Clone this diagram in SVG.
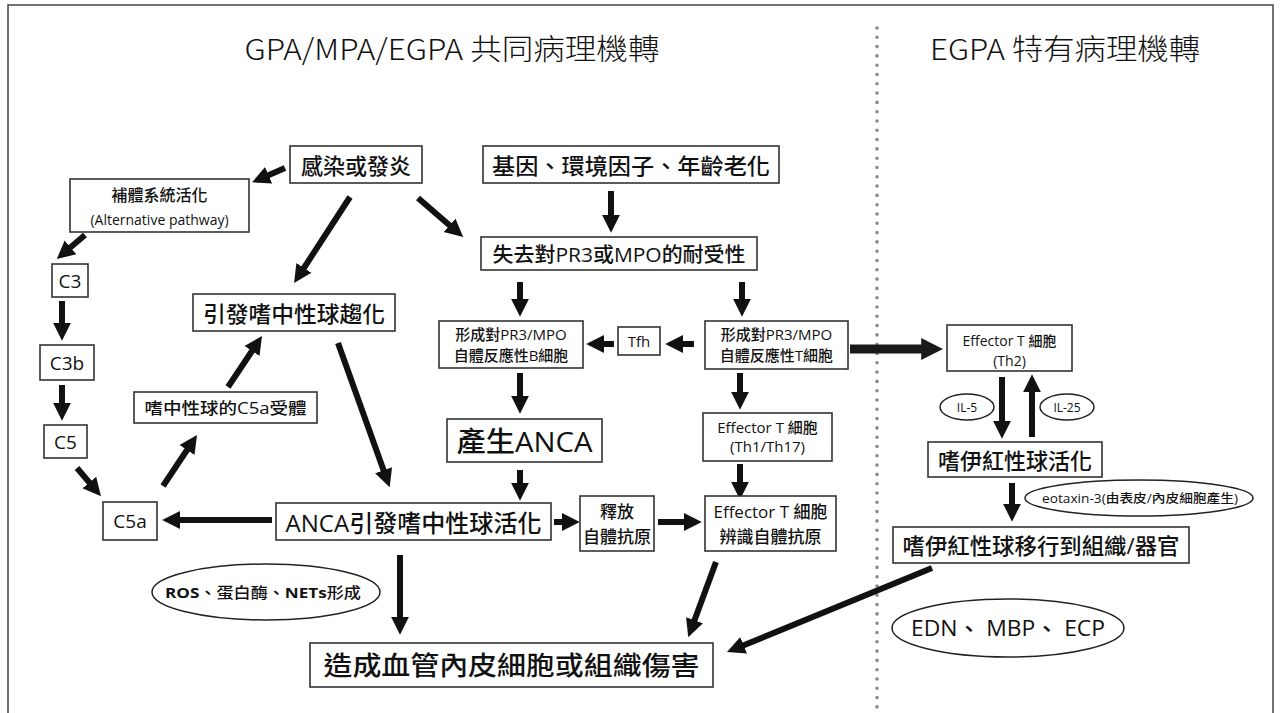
<svg xmlns="http://www.w3.org/2000/svg" width="1280" height="713" viewBox="0 0 1280 713">
<defs>
<marker id="ah" viewBox="0 0 10 10" refX="4" refY="5" markerWidth="18" markerHeight="21" markerUnits="userSpaceOnUse" orient="auto"><path d="M0,0 L10,5 L0,10 z" fill="#111"/></marker>
<marker id="ahL" viewBox="0 0 10 10" refX="4" refY="5" markerWidth="22" markerHeight="30" markerUnits="userSpaceOnUse" orient="auto"><path d="M0,0 L10,5 L0,10 z" fill="#1a1a1a"/></marker>
<style>
.box{fill:#fff;stroke:#333;stroke-width:1.6}
.ell{fill:#fff;stroke:#222;stroke-width:1.5}
text{font-family:"Open Sans","Noto Sans CJK TC",sans-serif;fill:#111;text-anchor:middle;dominant-baseline:central;font-weight:500}
.title{font-family:"Noto Sans CJK TC","Open Sans",sans-serif;font-weight:300;font-size:29px}
.arr{stroke:#111;stroke-width:6;fill:none;marker-end:url(#ah)}
</style>
</defs>
<rect width="1280" height="713" fill="#fff"/>
<path d="M8,713 V5 H1273 V713" fill="none" stroke="#444" stroke-width="1.5"/>
<line x1="877" y1="28" x2="877" y2="713" stroke="#8a8a8a" stroke-width="3.6" stroke-linecap="round" stroke-dasharray="0 9.3"/>
<text class="title" x="452" y="47" textLength="415" lengthAdjust="spacingAndGlyphs">GPA/MPA/EGPA 共同病理機轉</text>
<text class="title" x="1065" y="47" textLength="270" lengthAdjust="spacingAndGlyphs">EGPA 特有病理機轉</text>

<g id="connectors">
<line class="arr" x1="285" y1="168" x2="262" y2="178"/>
<line class="arr" x1="350" y1="197" x2="300" y2="274"/>
<line class="arr" x1="418" y1="198" x2="455" y2="230"/>
<line class="arr" x1="85" y1="235" x2="65" y2="252"/>
<line class="arr" x1="62" y1="301" x2="62" y2="330"/>
<line class="arr" x1="62" y1="385" x2="62" y2="410"/>
<line class="arr" x1="77" y1="468" x2="94" y2="488"/>
<line class="arr" x1="163" y1="486" x2="191" y2="444"/>
<line class="arr" x1="228" y1="387" x2="256" y2="345"/>
<line class="arr" x1="338" y1="343" x2="386" y2="477"/>
<line class="arr" x1="272" y1="520" x2="173" y2="520"/>
<line class="arr" x1="611" y1="191" x2="611" y2="222"/>
<line class="arr" x1="520" y1="282" x2="520" y2="306"/>
<line class="arr" x1="742" y1="282" x2="742" y2="306"/>
<line class="arr" x1="694" y1="344" x2="676" y2="344"/>
<line class="arr" x1="614" y1="344" x2="597" y2="344"/>
<line class="arr" x1="520" y1="373" x2="520" y2="403"/>
<line class="arr" x1="740" y1="373" x2="740" y2="399"/>
<line class="arr" x1="520" y1="470" x2="520" y2="490"/>
<line class="arr" x1="740" y1="464" x2="740" y2="489"/>
<line class="arr" x1="554" y1="522" x2="569" y2="522"/>
<line class="arr" x1="658" y1="522" x2="691" y2="522"/>
<line class="arr" x1="400" y1="555" x2="400" y2="624"/>
<line class="arr" x1="716" y1="562" x2="692" y2="627"/>
<line class="arr" x1="932" y1="568" x2="737" y2="648"/>
<line x1="850" y1="349" x2="930" y2="349" stroke="#1a1a1a" stroke-width="9" marker-end="url(#ahL)"/>
<line class="arr" x1="1002" y1="377" x2="1002" y2="428"/>
<line class="arr" x1="1032" y1="437" x2="1032" y2="385"/>
<line class="arr" x1="1012" y1="483" x2="1012" y2="511"/>
</g>

<g id="n_infect"><rect class="box" x="290" y="146" width="132" height="37"/><text x="356" y="165" font-size="22">感染或發炎</text></g>
<g id="n_complement"><rect class="box" x="70" y="179" width="179" height="53"/><text x="159.5" y="195" font-size="16">補體系統活化</text><text x="159.5" y="219" font-size="14" font-weight="400">(Alternative pathway)</text></g>
<g id="n_c3"><rect class="box" x="52" y="264" width="36" height="33"/><text x="70" y="281" font-size="19" font-weight="400">C3</text></g>
<g id="n_c3b"><rect class="box" x="40" y="345" width="54" height="35"/><text x="67" y="363" font-size="19" font-weight="400">C3b</text></g>
<g id="n_c5"><rect class="box" x="44" y="425" width="43" height="33"/><text x="65.5" y="442" font-size="19" font-weight="400">C5</text></g>
<g id="n_c5a"><rect class="box" x="103" y="502" width="54" height="38"/><text x="130" y="521" font-size="19" font-weight="400">C5a</text></g>
<g id="n_receptor"><rect class="box" x="134" y="392" width="183" height="31"/><text x="225.5" y="408" font-size="16" textLength="162" lengthAdjust="spacingAndGlyphs">嗜中性球的C5a受體</text></g>
<g id="n_chemotaxis"><rect class="box" x="193" y="294" width="202" height="37"/><text x="294" y="313" font-size="22" textLength="182" lengthAdjust="spacingAndGlyphs">引發嗜中性球趨化</text></g>
<g id="n_gene"><rect class="box" x="483" y="146" width="296" height="37"/><text x="631" y="165" font-size="22" textLength="278" lengthAdjust="spacingAndGlyphs">基因、環境因子、年齡老化</text></g>
<g id="n_tolerance"><rect class="box" x="481" y="237" width="276" height="33"/><text x="619" y="254" font-size="20" textLength="253" lengthAdjust="spacingAndGlyphs">失去對PR3或MPO的耐受性</text></g>
<g id="n_bcell"><rect class="box" x="439" y="321" width="144" height="47"/><text x="511" y="334" font-size="15">形成對PR3/MPO</text><text x="511" y="355" font-size="15">自體反應性B細胞</text></g>
<g id="n_tfh"><rect class="box" x="618" y="327" width="42" height="28"/><text x="639" y="341" font-size="15">Tfh</text></g>
<g id="n_tcell"><rect class="box" x="705" y="321" width="143" height="48"/><text x="776.5" y="334" font-size="15">形成對PR3/MPO</text><text x="776.5" y="355" font-size="15">自體反應性T細胞</text></g>
<g id="n_anca"><rect class="box" x="447" y="419" width="155" height="43"/><text x="524.5" y="441" font-size="28" textLength="136" lengthAdjust="spacingAndGlyphs">產生ANCA</text></g>
<g id="n_th1"><rect class="box" x="703" y="413" width="129" height="48"/><text x="767.5" y="427" font-size="15" font-weight="400">Effector T 細胞</text><text x="767.5" y="446" font-size="15" font-weight="400">(Th1/Th17)</text></g>
<g id="n_activation"><rect class="box" x="276" y="503" width="275" height="37"/><text x="413.5" y="522" font-size="24" textLength="256" lengthAdjust="spacingAndGlyphs">ANCA引發嗜中性球活化</text></g>
<g id="n_release"><rect class="box" x="580" y="496" width="74" height="55"/><text x="617" y="511" font-size="17">釋放</text><text x="617" y="536" font-size="17">自體抗原</text></g>
<g id="n_recognize"><rect class="box" x="705" y="496" width="131" height="55"/><text x="770.5" y="511" font-size="17" font-weight="400">Effector T 細胞</text><text x="770.5" y="536" font-size="17">辨識自體抗原</text></g>
<g id="n_damage"><rect class="box" x="310" y="643" width="403" height="44"/><text x="511.5" y="665" font-size="26" textLength="376" lengthAdjust="spacingAndGlyphs">造成血管內皮細胞或組織傷害</text></g>
<g id="n_ros"><ellipse class="ell" cx="266" cy="592" rx="114" ry="28"/><text x="263" y="592" font-size="15" font-weight="400" textLength="196" lengthAdjust="spacingAndGlyphs"><tspan font-weight="bold">ROS</tspan>、蛋白酶、<tspan font-weight="bold">NETs</tspan>形成</text></g>
<g id="n_th2"><rect class="box" x="947" y="325" width="125" height="46"/><text x="1009.5" y="340" font-size="14" font-weight="400">Effector T 細胞</text><text x="1009.5" y="360" font-size="14" font-weight="400">(Th2)</text></g>
<g id="n_il5"><ellipse class="ell" cx="967" cy="407" rx="27" ry="13"/><text x="967" y="407" font-size="12" font-weight="400">IL-5</text></g>
<g id="n_il25"><ellipse class="ell" cx="1067" cy="407" rx="27" ry="13"/><text x="1067" y="407" font-size="12" font-weight="400">IL-25</text></g>
<g id="n_eos_act"><rect class="box" x="928" y="442" width="174" height="35"/><text x="1015" y="460" font-size="22" textLength="154" lengthAdjust="spacingAndGlyphs">嗜伊紅性球活化</text></g>
<g id="n_eotaxin"><ellipse class="ell" cx="1139" cy="498" rx="114" ry="18"/><text x="1140" y="498" font-size="12" font-weight="400" textLength="196" lengthAdjust="spacingAndGlyphs">eotaxin-3(由表皮/內皮細胞產生)</text></g>
<g id="n_eos_mig"><rect class="box" x="893" y="527" width="296" height="36"/><text x="1041" y="545" font-size="22" textLength="277" lengthAdjust="spacingAndGlyphs">嗜伊紅性球移行到組織/器官</text></g>
<g id="n_edn"><ellipse class="ell" cx="1008" cy="628" rx="116" ry="29"/><text x="1008" y="628" font-size="21" font-weight="400" textLength="194" lengthAdjust="spacingAndGlyphs">EDN、 MBP、 ECP</text></g>
</svg>
